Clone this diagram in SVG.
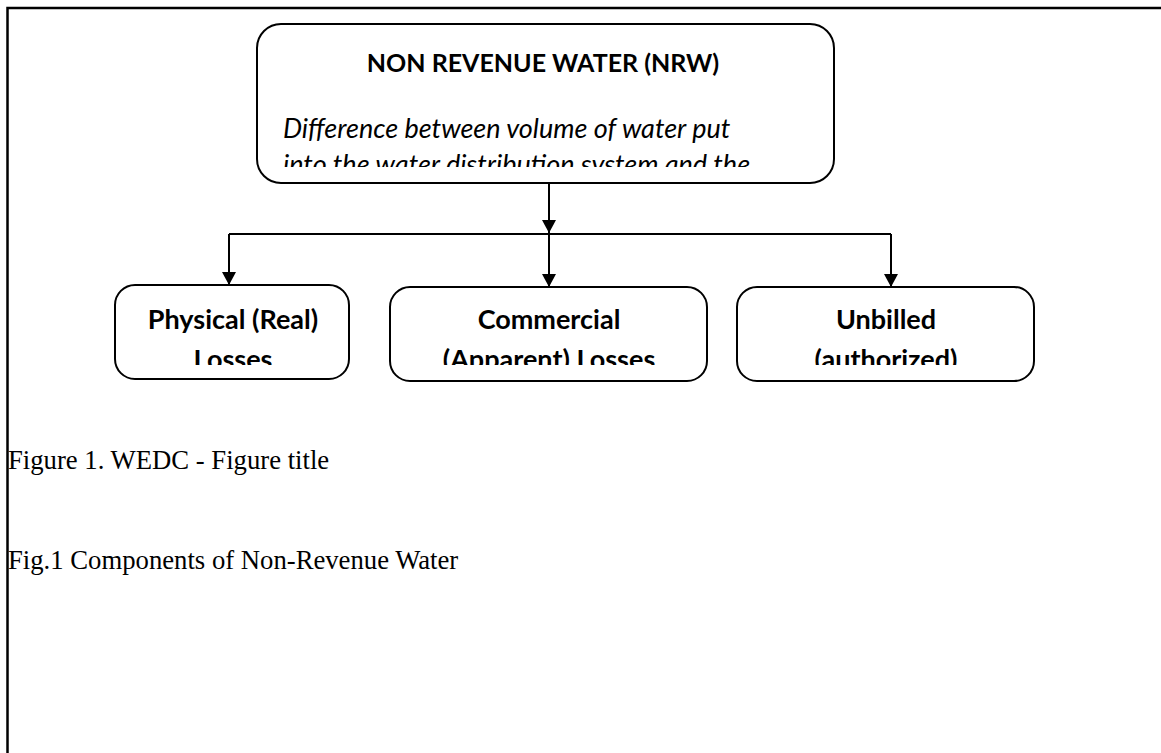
<svg xmlns="http://www.w3.org/2000/svg" width="1161" height="753" viewBox="0 0 1161 753">
<style>
.box{fill:#fff;stroke:#000;stroke-width:2}
.hd{font-family:Lato,"Liberation Sans",sans-serif;font-weight:bold;font-size:27px;text-anchor:middle;fill:#000}
.it{font-family:Lato,"Liberation Sans",sans-serif;font-style:italic;font-size:27px;fill:#000}
.cap{font-family:"Liberation Serif",serif;font-size:26.7px;fill:#000}
.ln{fill:none;stroke:#000;stroke-width:2}
</style>
<defs>
<marker id="ah" markerWidth="15" markerHeight="14" refX="14" refY="7.5" orient="auto" markerUnits="userSpaceOnUse" viewBox="0 0 14 15"><path d="M0,0 L14,7.5 L0,15 z" fill="#000"/></marker>
<clipPath id="c0"><rect x="257" y="24" width="577" height="143"/></clipPath>
<clipPath id="c1"><rect x="115" y="285" width="234" height="80"/></clipPath>
<clipPath id="c2"><rect x="390" y="287" width="317" height="78"/></clipPath>
<clipPath id="c3"><rect x="737" y="287" width="297" height="78"/></clipPath>
</defs>
<rect x="0" y="0" width="1161" height="753" fill="#fff"/>
<path d="M7.5,753 V8 H1161" fill="none" stroke="#000" stroke-width="2.5"/>
<g id="connectors">
<path class="ln" d="M549,183 V233" marker-end="url(#ah)"/>
<path class="ln" d="M229,234 H891"/>
<path class="ln" d="M229,234 V285" marker-end="url(#ah)"/>
<path class="ln" d="M549,234 V287" marker-end="url(#ah)"/>
<path class="ln" d="M891,234 V287" marker-end="url(#ah)"/>
</g>
<g id="nrw">
<rect class="box" x="257" y="24" width="577" height="159" rx="24"/>
<g clip-path="url(#c0)">
<text class="hd" x="543" y="72" style="font-size:25px">NON REVENUE WATER (NRW)</text>
<text class="it" x="283" y="138">Difference between volume of water put</text>
<text class="it" x="283" y="174">into the water distribution system and the</text>
</g>
</g>
<g id="physical">
<rect class="box" x="115" y="285" width="234" height="94" rx="20"/>
<g clip-path="url(#c1)">
<text class="hd" x="233" y="329">Physical (Real)</text>
<text class="hd" x="233" y="369">Losses</text>
</g>
</g>
<g id="commercial">
<rect class="box" x="390" y="287" width="317" height="94" rx="20"/>
<g clip-path="url(#c2)">
<text class="hd" x="549" y="329">Commercial</text>
<text class="hd" x="549" y="369">(Apparent) Losses</text>
</g>
</g>
<g id="unbilled">
<rect class="box" x="737" y="287" width="297" height="94" rx="20"/>
<g clip-path="url(#c3)">
<text class="hd" x="886" y="329">Unbilled</text>
<text class="hd" x="886" y="369">(authorized)</text>
</g>
</g>
<text class="cap" x="8" y="469">Figure 1. WEDC - Figure title</text>
<text class="cap" x="8" y="569">Fig.1 Components of Non-Revenue Water</text>
</svg>
